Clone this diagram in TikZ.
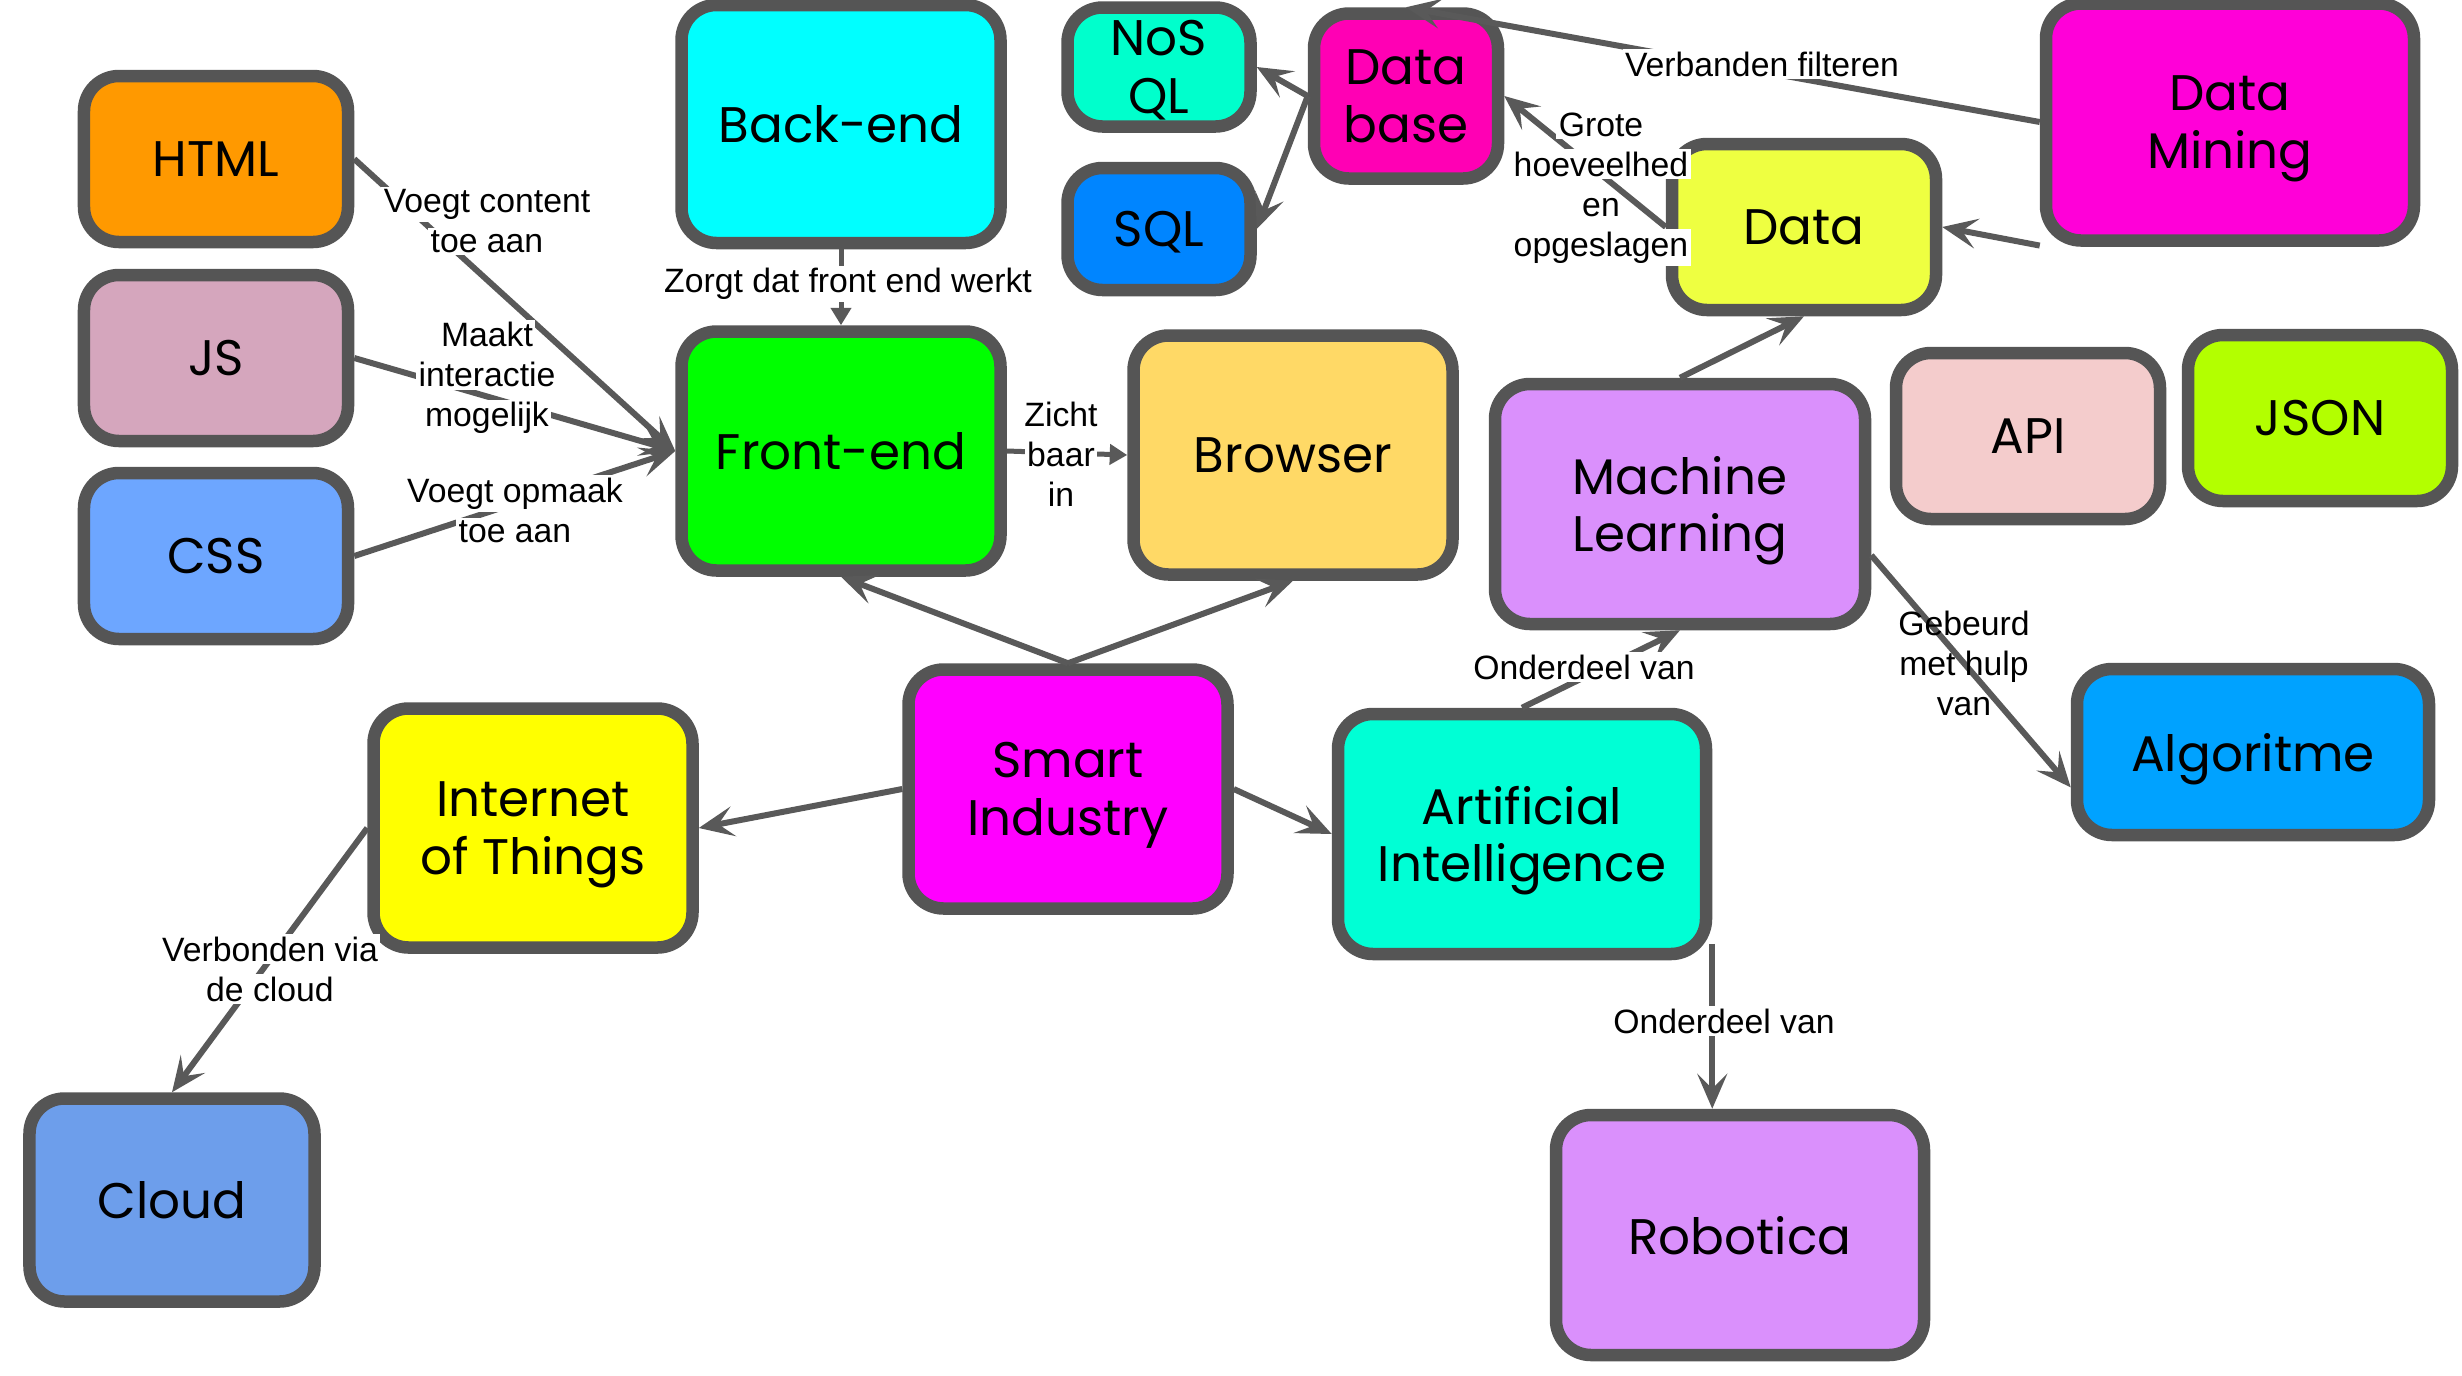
\documentclass[tikz,border=0pt]{standalone}
\usepackage{fontspec}
\usetikzlibrary{arrows.meta}
\newfontfamily\boxfont{Poppins}
\newfontfamily\lblfont{Liberation Sans}
\definecolor{cBorder}{HTML}{555555}
\definecolor{cLine}{HTML}{595959}
\definecolor{cHtml}{HTML}{FF9900}
\definecolor{cJs}{HTML}{D5A6BD}
\definecolor{cCss}{HTML}{6DA6FF}
\definecolor{cBack}{HTML}{00FFFF}
\definecolor{cFront}{HTML}{00FF00}
\definecolor{cNosql}{HTML}{00FFCC}
\definecolor{cSql}{HTML}{0085FF}
\definecolor{cDb}{HTML}{FF00B4}
\definecolor{cMining}{HTML}{FF00D8}
\definecolor{cData}{HTML}{EEFF41}
\definecolor{cBrowser}{HTML}{FFD966}
\definecolor{cMl}{HTML}{DA90FC}
\definecolor{cApi}{HTML}{F4CCCC}
\definecolor{cJson}{HTML}{B3FF00}
\definecolor{cSmart}{HTML}{FF00FF}
\definecolor{cIot}{HTML}{FFFF00}
\definecolor{cAi}{HTML}{00FFD5}
\definecolor{cAlgo}{HTML}{00A2FF}
\definecolor{cCloud}{HTML}{6D9EEB}
\definecolor{cRobo}{HTML}{DA90FC}
% white strip behind one line of a connector label
\newcommand{\lblline}[1]{{\setlength{\fboxsep}{1pt}\colorbox{white}{#1}}}
\begin{document}
\begin{tikzpicture}[x=0.4pt,y=0.4pt,yscale=-1,
    box/.style={draw=cBorder,line width=5pt,rounded corners=14pt,align=center,inner sep=2pt,
      text depth=0pt,font=\boxfont\fontsize{20}{23}\selectfont},
    boxS/.style={minimum width=105.6pt,minimum height=66.4pt},
    boxM/.style={minimum width=127.6pt,minimum height=95.6pt},
    boxL/.style={minimum width=147.2pt,minimum height=96pt},
    lbl/.style={inner sep=0pt,align=center,font=\lblfont\fontsize{13.5}{16}\selectfont},
    arr/.style={draw=cLine,line width=2.4pt,-{Stealth[length=14pt,width=12pt,inset=6pt]}},
    arrsmall/.style={draw=cLine,line width=2pt,-{Triangle[length=7pt,width=8pt]}}]
    \useasboundingbox (0,0) rectangle (2462,1375);
    %Shape: Rounded Rect
    \node[box,boxS,fill=cHtml] (html) at (216,159) {HTML};
    %Shape: Rounded Rect
    \node[box,boxS,fill=cJs] (js) at (216,358) {JS};
    %Shape: Rounded Rect
    \node[box,boxS,fill=cCss] (css) at (216,556) {CSS};
    %Shape: Rounded Rect
    \node[box,boxM,fill=cBack,minimum height=95.2pt] (back) at (841,124) {Back-end};
    %Shape: Rounded Rect
    \node[box,boxM,fill=cFront] (front) at (841,451) {Front-end};
    %Shape: Rounded Rect
    \node[box,fill=cNosql,minimum width=73.2pt,minimum height=47.6pt,inner sep=0pt] (nosql) at (1159,67) {NoS\\QL};
    %Shape: Rounded Rect
    \node[box,fill=cSql,minimum width=73.2pt,minimum height=48.8pt] (sql) at (1159,229) {SQL};
    %Shape: Rounded Rect
    \node[box,fill=cDb,minimum width=73.6pt,minimum height=66pt] (db) at (1406,96) {Data\\base};
    %Shape: Rounded Rect
    \node[box,boxL,fill=cMining,minimum height=94.8pt] (mining) at (2230,122) {Data\\Mining};
    %Shape: Rounded Rect
    \node[box,boxS,fill=cData] (data) at (1804,227) {Data};
    %Shape: Rounded Rect
    \node[box,boxM,fill=cBrowser] (browser) at (1293,455) {Browser};
    %Shape: Rounded Rect
    \node[box,boxL,fill=cMl,minimum width=148pt] (ml) at (1680,504) {Machine\\Learning};
    %Shape: Rounded Rect
    \node[box,boxS,fill=cApi] (api) at (2028,436) {API};
    %Shape: Rounded Rect
    \node[box,boxS,fill=cJson] (json) at (2320,418) {JSON};
    %Shape: Rounded Rect
    \node[box,boxM,fill=cSmart] (smart) at (1068,789) {Smart\\Industry};
    %Shape: Rounded Rect
    \node[box,boxM,fill=cIot] (iot) at (533,828) {Internet\\of Things};
    %Shape: Rounded Rect
    \node[box,boxL,fill=cAi] (ai) at (1522,834) {Artificial\\Intelligence};
    %Shape: Rounded Rect
    \node[box,fill=cAlgo,minimum width=140.8pt,minimum height=66.4pt] (algo) at (2253,752) {Algoritme};
    %Shape: Rounded Rect
    \node[box,fill=cCloud,minimum width=114pt,minimum height=81.2pt] (cloud) at (172,1200) {Cloud};
    %Shape: Rounded Rect
    \node[box,boxL,fill=cRobo] (robo) at (1740,1235) {Robotica};
    %Straight Lines
    \draw[arr] (html.east) -- (front.west);
    \draw[arr] (js.east) -- (front.west);
    \draw[arr] (css.east) -- (front.west);
    \draw[arrsmall] (back.south) -- (front.north);
    \draw[arrsmall] (front.east) -- (browser.west);
    \draw[arr] (smart.north) -- (front.south);
    \draw[arr] (smart.north) -- (browser.south);
    \draw[arr] (smart.west) -- (iot.east);
    \draw[arr] (smart.east) -- (ai.west);
    \draw[arr] (iot.west) -- (cloud.north);
    \draw[arr] (ai.north) -- (ml.south);
    \draw[arr] (ml.-15) -- (algo.191);
    \draw[arr] (ml.north) -- (data.south);
    \draw[arr] (mining.213) -- (data.east);
    \draw[arr] (mining.west) -- (db.north);
    \draw[arr] (data.west) -- (db.east);
    \draw[arr] (db.west) -- (nosql.east);
    \draw[arr] (db.west) -- (sql.east);
    \draw[arr] (ai.-30) -- (ai.-30 |- robo.north);
    % Text Node
    \node[lbl] (lhtml) at (487,221) {\lblline{Voegt content}\\\lblline{toe aan}};
    % Text Node
    \node[lbl] (ljs) at (487,378) {\lblline{Maakt}\\\lblline{interactie}\\\lblline{mogelijk}};
    % Text Node
    \node[lbl] (lcss) at (515,510) {\lblline{Voegt opmaak}\\\lblline{toe aan}};
    % Text Node
    \node[lbl] (lback) at (848,284) {\lblline{Zorgt dat front end werkt}};
    % Text Node
    \node[lbl] (lbrowser) at (1061,454) {\lblline{Zicht}\\\lblline{baar}\\\lblline{in}};
    % Text Node
    \node[lbl] (lmining) at (1762,64) {\lblline{Verbanden filteren}};
    % Text Node
    \node[lbl] (ldata) at (1601,188) {\lblline{Grote}\\\lblline{hoeveelhed}\\\lblline{en}\\\lblline{opgeslagen}};
    % Text Node
    \node[lbl] (lml) at (1584,667) {\lblline{Onderdeel van}};
    % Text Node
    \node[lbl] (lalgo) at (1964,663) {Gebeurd\\met hulp\\van};
    % Text Node
    \node[lbl] (lcloud) at (270,969) {\lblline{Verbonden via}\\\lblline{de cloud}};
    % Text Node
    \node[lbl] (lrobo) at (1724,1021) {\lblline{Onderdeel van}};
\end{tikzpicture}
\end{document}
